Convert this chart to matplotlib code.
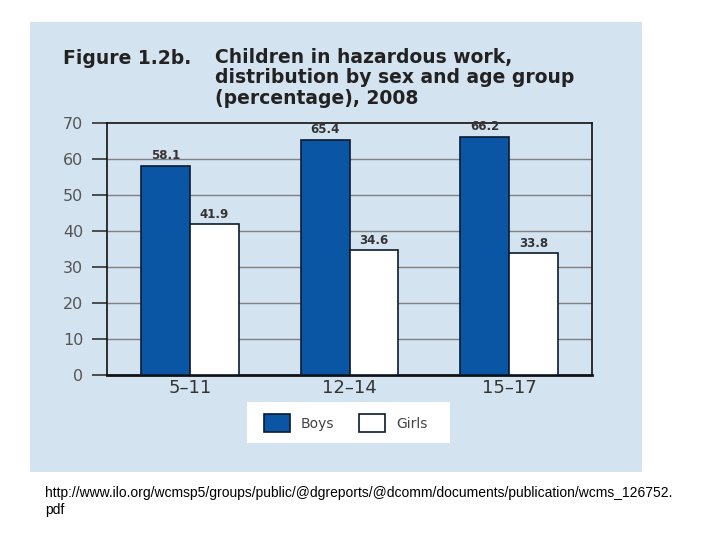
import matplotlib
matplotlib.use("Agg")
import matplotlib.pyplot as plt
import numpy as np
from matplotlib.patches import Rectangle

categories = ["5\u201311", "12\u201314", "15\u201317"]
boys = [58.1, 65.4, 66.2]
girls = [41.9, 34.6, 33.8]
yticks = [0, 10, 20, 30, 40, 50, 60, 70]

W, H = 720, 540
fig = plt.figure(figsize=(7.2, 5.4), dpi=100)
fig.patch.set_facecolor("white")

def fx(px):
    return px / W

def fy(py):
    return 1 - py / H

panel_col = "#d4e3f0"
fig.patches.append(Rectangle((fx(30), fy(472)), fx(642) - fx(30), fy(22) - fy(472),
                             transform=fig.transFigure, facecolor=panel_col,
                             edgecolor="none", zorder=-5))

ax = fig.add_axes([fx(107), fy(375), fx(592) - fx(107), fy(123) - fy(375)])
ax.set_zorder(2)
ax.set_facecolor(panel_col)
x = np.arange(len(categories))
bw = 0.305
ax.bar(x - bw / 2, boys, bw, color="#0a56a5", edgecolor="#0a1a30", linewidth=1.2, zorder=3)
ax.bar(x + bw / 2, girls, bw, color="white", edgecolor="#0a1a30", linewidth=1.2, zorder=3)

for xi, v in zip(x, boys):
    ax.text(xi - bw / 2, v + 1.0, f"{v:.1f}", ha="center", va="bottom", fontsize=8.5,
            color="#333333", fontweight="bold")
for xi, v in zip(x, girls):
    ax.text(xi + bw / 2, v + 1.0, f"{v:.1f}", ha="center", va="bottom", fontsize=8.5,
            color="#333333", fontweight="bold")

ax.set_xlim(-0.52, 2.52)
ax.set_ylim(0, 70)
ax.set_yticks(yticks)
ax.set_yticklabels([str(t) for t in yticks], fontsize=11.5, color="#555555")
for t in yticks[1:-1]:
    ax.axhline(t, color="#808080", linewidth=1.0, zorder=1)
ax.tick_params(axis="y", length=11, width=1.2, color="#333333", pad=6)
ax.set_xticks(x)
ax.set_xticklabels(categories, fontsize=13, color="#333333")
ax.tick_params(axis="x", length=0, pad=3)
for s in ["left", "right", "top"]:
    ax.spines[s].set_color("#111111")
    ax.spines[s].set_linewidth(1.2)
ax.spines["bottom"].set_color("#111111")
ax.spines["bottom"].set_linewidth(2)

# title
tfs = 13.5
fig.text(fx(63), fy(58), "Figure 1.2b.", fontsize=tfs, fontweight="bold", color="#222222", va="center")
fig.text(fx(215), fy(58), "Children in hazardous work,", fontsize=tfs, fontweight="bold", color="#222222", va="center")
fig.text(fx(215), fy(78), "distribution by sex and age group", fontsize=tfs, fontweight="bold", color="#222222", va="center")
fig.text(fx(215), fy(99), "(percentage), 2008", fontsize=tfs, fontweight="bold", color="#222222", va="center")

# legend
fig.patches.append(Rectangle((fx(247), fy(443)), fx(450) - fx(247), fy(402) - fy(443),
                             transform=fig.transFigure, facecolor="white", edgecolor="none", zorder=1))
fig.patches.append(Rectangle((fx(264), fy(432)), fx(290) - fx(264), fy(414) - fy(432),
                             transform=fig.transFigure, facecolor="#0a56a5", edgecolor="#0a1a30",
                             linewidth=1.2, zorder=2))
fig.patches.append(Rectangle((fx(359), fy(432)), fx(385) - fx(359), fy(414) - fy(432),
                             transform=fig.transFigure, facecolor="white", edgecolor="#0a1a30",
                             linewidth=1.2, zorder=2))
fig.text(fx(301), fy(424), "Boys", fontsize=10, color="#444444", va="center", zorder=3)
fig.text(fx(396), fy(424), "Girls", fontsize=10, color="#444444", va="center", zorder=3)

# source
fig.text(fx(45), fy(493), "http://www.ilo.org/wcmsp5/groups/public/@dgreports/@dcomm/documents/publication/wcms_126752.",
         fontsize=10, family="Liberation Sans", color="black", va="center")
fig.text(fx(45), fy(510), "pdf", fontsize=10, family="Liberation Sans", color="black", va="center")

fig.savefig("out.png", dpi=100)
